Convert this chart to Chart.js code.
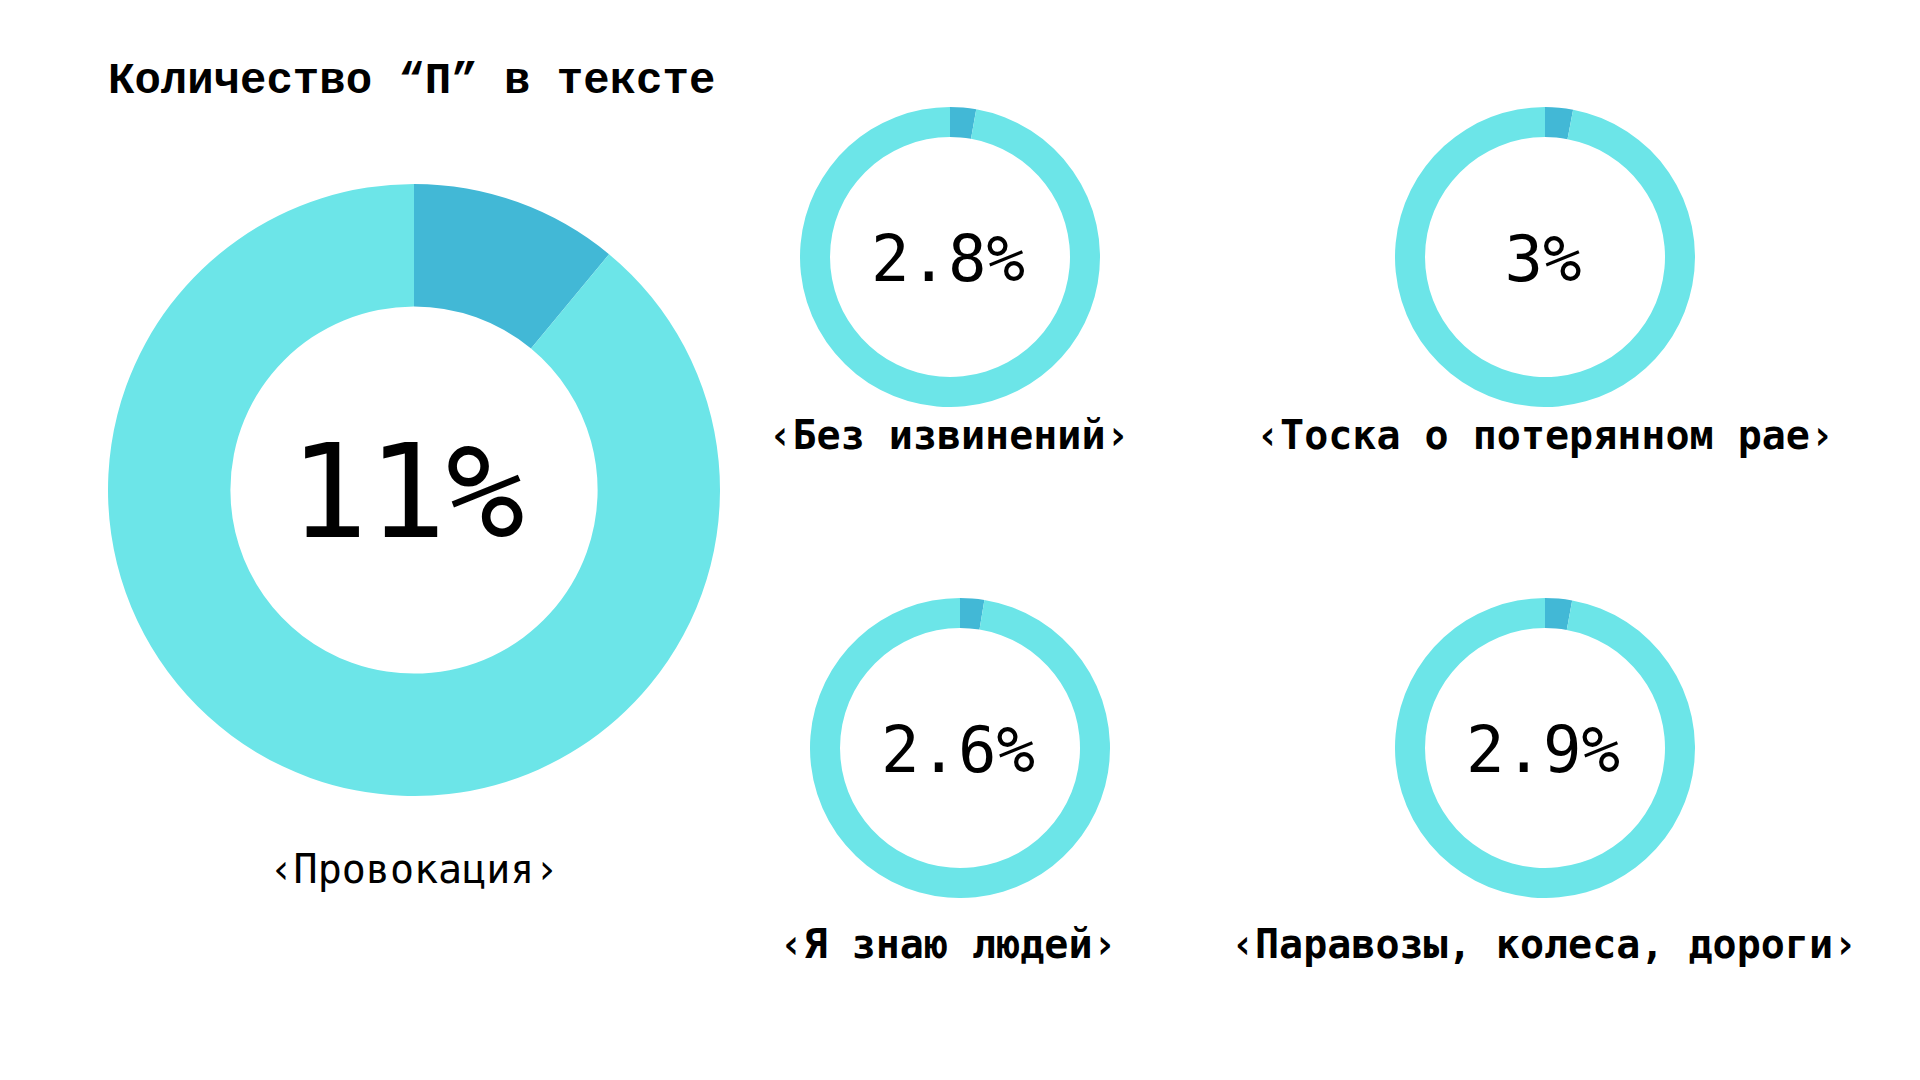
<!DOCTYPE html>
<html lang="ru">
<head>
<meta charset="utf-8">
<title>Количество “П” в тексте</title>
<script src="https://cdn.jsdelivr.net/npm/chart.js@4"></script>
<style>
  html, body { margin: 0; padding: 0; background: #fff; }
  #page { position: relative; width: 1920px; height: 1080px; overflow: hidden; }
  .box { position: absolute; }
  .txt {
    position: absolute;
    transform: translate(-50%, -50%);
    white-space: nowrap;
    line-height: 1;
    color: #000;
    font-family: "DejaVu Sans Mono", monospace;
  }
  #title {
    position: absolute;
    left: 108px;
    top: 81px;
    transform: translateY(-50%);
    line-height: 1;
    font-family: "Liberation Mono", monospace;
    font-weight: bold;
    font-size: 44px;
    white-space: nowrap;
  }
</style>
</head>
<body>
<div id="page">
  <div id="title">Количество “П” в тексте</div>
</div>
<script>
// данные
const books = ['‹Провокация›', '‹Без извинений›', '‹Тоска о потерянном рае›', '‹Я знаю людей›', '‹Паравозы, колеса, дороги›'];
const shareP = [11, 2.8, 3, 2.6, 2.9];
const shareText = ['11%', '2.8%', '3%', '2.6%', '2.9%'];

// раскладка (центр, радиус, подпись)
const slots = [
  { cx: 414, cy: 490, r: 306, cut: '60%', valSize: 130, valDx: -7, labY: 869, labX: 414, labBold: false },
  { cx: 950, cy: 257, r: 150, cut: '80%', valSize: 64, valDx: -2, labY: 435, labX: 949, labBold: true },
  { cx: 1545, cy: 257, r: 150, cut: '80%', valSize: 64, valDx: -2, labY: 435, labX: 1545, labBold: true },
  { cx: 960, cy: 748, r: 150, cut: '80%', valSize: 64, valDx: -2, labY: 944, labX: 948, labBold: true },
  { cx: 1545, cy: 748, r: 150, cut: '80%', valSize: 64, valDx: -2, labY: 944, labX: 1544, labBold: true }
];

const colorP = 'rgb(66, 184, 214)';
const colorRest = 'rgb(108, 229, 232)';

const page = document.getElementById('page');

books.forEach(function (name, i) {
  const s = slots[i];

  const box = document.createElement('div');
  box.className = 'box';
  box.style.left = (s.cx - s.r) + 'px';
  box.style.top = (s.cy - s.r) + 'px';
  box.style.width = (2 * s.r) + 'px';
  box.style.height = (2 * s.r) + 'px';
  const canvas = document.createElement('canvas');
  box.appendChild(canvas);
  page.appendChild(box);

  new Chart(canvas.getContext('2d'), {
    type: 'doughnut',
    data: {
      labels: ['П', 'остальное'],
      datasets: [{
        data: [shareP[i], 100 - shareP[i]],
        backgroundColor: [colorP, colorRest],
        borderWidth: 0,
        hoverOffset: 0
      }]
    },
    options: {
      responsive: true,
      maintainAspectRatio: false,
      animation: false,
      cutout: s.cut,
      layout: { padding: 0 },
      plugins: {
        legend: { display: false },
        tooltip: {
          callbacks: {
            label: function (context) {
              return context.label + ': ' + context.formattedValue + '%';
            }
          }
        }
      }
    }
  });

  // значение в центре
  const val = document.createElement('div');
  val.className = 'txt';
  val.textContent = shareText[i];
  val.style.left = (s.cx + s.valDx) + 'px';
  val.style.top = (s.cy + 2) + 'px';
  val.style.fontSize = s.valSize + 'px';
  page.appendChild(val);

  // подпись
  const lab = document.createElement('div');
  lab.className = 'txt';
  lab.textContent = name;
  lab.style.left = s.labX + 'px';
  lab.style.top = s.labY + 'px';
  lab.style.fontSize = '40px';
  lab.style.fontWeight = s.labBold ? 'bold' : 'normal';
  page.appendChild(lab);
});
</script>
</body>
</html>
